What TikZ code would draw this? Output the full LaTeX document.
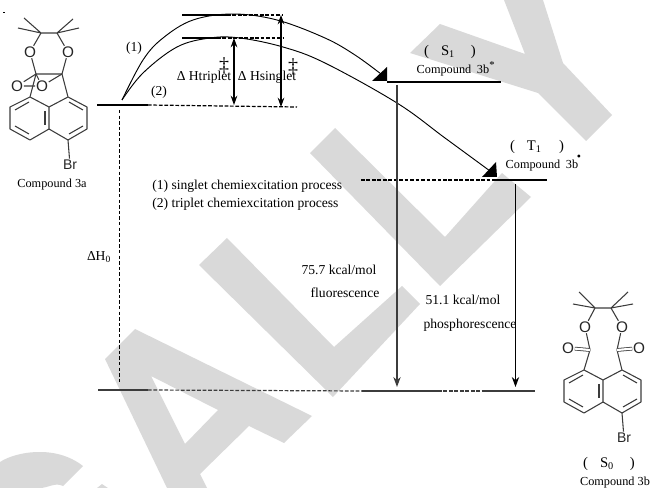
\documentclass[tikz,border=0pt]{standalone}
\usepackage{fontspec}
\usepackage{xcolor}
\setmainfont{Liberation Serif}
\setsansfont{Liberation Sans}
\usetikzlibrary{arrows.meta}
\definecolor{wmgray}{HTML}{D9D9D9}
\definecolor{lvlgray}{HTML}{3C3C3C}
\tikzset{
  wmark/.style={fill=wmgray,draw=none},
  bond/.style={line width=0.8pt,color=lvlgray},
  atom/.style={font=\sffamily\fontsize{11.5}{12}\selectfont,inner sep=0.4pt,color=black!85},
  brom/.style={font=\sffamily\fontsize{10.5}{12}\selectfont,inner sep=1pt,color=black!85},
  lbl/.style={font=\fontsize{10.2}{12}\selectfont,inner sep=0pt},
  state/.style={font=\fontsize{11}{13}\selectfont,inner sep=0pt},
  cmpd/.style={font=\fontsize{9.2}{11}\selectfont,inner sep=0pt},
  level/.style={line width=0.9pt},
  dashlevel/.style={line width=0.9pt,dash pattern=on 2.8pt off 1.3pt},
  curve/.style={line width=0.7pt},
  wedge/.style={fill=black,draw=none},
  gap/.style={line width=0.85pt,{Stealth[length=7pt,width=5pt]}-{Stealth[length=7pt,width=5pt]}},
  emit/.style={line width=1pt,-{Stealth[length=7.5pt,width=5.5pt]}}
}
\newcommand{\brnaphth}[3]{%
  \begin{scope}[shift={(#1,#2)}]
    \coordinate (#3a) at (30,97);
    \coordinate (#3b) at (10,107);
    \coordinate (#3c) at (10,129);
    \coordinate (#3d) at (30,140);
    \coordinate (#3e) at (49,129);
    \coordinate (#3f) at (49,107);
    \coordinate (#3g) at (68,97);
    \coordinate (#3h) at (87,107);
    \coordinate (#3i) at (87,129);
    \coordinate (#3j) at (68,140);
    \node[brom] (#3br) at (70,165) {Br};
    \draw[bond,line join=round] (#3a)--(#3b)--(#3c)--(#3d)--(#3e)--(#3f)--(#3a);
    \draw[bond,line join=round] (#3f)--(#3g)--(#3h)--(#3i)--(#3j)--(#3e);
    \draw[bond] (#3j)--(#3br);
    \draw[bond] (29,102)--(15,110);
    \draw[bond] (15,126)--(29,134);
    \draw[bond] (45,111)--(45,125);
    \draw[bond] (69,102)--(83,110);
    \draw[bond] (83,126)--(69,134);
  \end{scope}}
\begin{document}
\begin{tikzpicture}[x=0.75pt,y=-0.75pt]
  \useasboundingbox (0,0) rectangle (650,488);

  \fill[wmark] (504,0)--(543,0)--(563,63)--(612,115)--(586,141)--(538,93)--(410,53)--(440,24)--(525,54)--cycle;
  \fill[wmark] (335,128)--(445,237)--(502,173)--(531,197)--(440,286)--(310,153)--cycle;
  \fill[wmark] (227,238)--(334,347)--(402,286)--(420,304)--(333,397)--(199,265)--cycle;
  \fill[wmark,even odd rule] (135,329)--(312,416)--(284,443)--(249,426)--(200,474)--(207,488)--(167,488)--(105,359)--cycle
    (151,376)--(218,410)--(185,444)--cycle;
  \fill[wmark] (0,462) .. controls (15,452) and (55,444) .. (83,466)--(63,486) .. controls (55,482) and (48,488) .. (40,488)--(0,488)--cycle;
  \fill[wmark] (97,488)--(102,484)--(108,488)--cycle;

  \draw[line width=0.6pt] (3,12)--(5,12);

  \coordinate (ca) at (41,33);
  \coordinate (cb) at (57,33);
  \coordinate (cc) at (36,74);
  \coordinate (cd) at (62,74);
  \coordinate (mea) at (24,18);
  \coordinate (meb) at (18,28);
  \coordinate (mec) at (73,19);
  \coordinate (med) at (79,28);
  \node[atom] (oa) at (30,52) {O};
  \node[atom] (ob) at (68,52) {O};
  \node[atom] (oc) at (17,86) {O};
  \node[atom] (od) at (42,86) {O};
  \brnaphth{0}{0}{n}
  \draw[bond] (ca)--(cb) (ca)--(mea) (ca)--(meb) (cb)--(mec) (cb)--(med);
  \draw[bond] (ca)--(oa) (oa)--(cc) (cb)--(ob) (ob)--(cd) (cc)--(cd);
  \draw[bond] (cc)--(oc) (cc)--(od) (cd)--(od) (oc)--(od);
  \draw[bond] (cc)--(na) (cd)--(ng);
  \node[cmpd] (cmpa) at (52,185) {Compound 3a};

  \coordinate (gs) at (97,105);
  \coordinate (gsm) at (148,105);
  \coordinate (gsr) at (297,107);
  \coordinate (tsa) at (182,15);
  \coordinate (tsam) at (227,15);
  \coordinate (tsar) at (282,15);
  \coordinate (tsb) at (182,38);
  \coordinate (tsbm) at (217,38);
  \coordinate (tsbr) at (284,38);
  \coordinate (sa) at (387,82);
  \coordinate (sb) at (501,82);
  \coordinate (ta) at (361,180);
  \coordinate (tm) at (495,180);
  \coordinate (tb) at (547,180);
  \coordinate (ga) at (98,390);
  \coordinate (gb) at (148,390);
  \coordinate (gc) at (362,391);
  \coordinate (gd) at (438,391);
  \coordinate (ge) at (485,391);
  \coordinate (gf) at (535,391);

  \draw[level] (gs)--(gsm);
  \draw[dashlevel] (gsm)--(gsr);
  \draw[level] (tsa)--(tsam);
  \draw[dashlevel] (tsam)--(tsar);
  \draw[level] (tsb)--(tsbm);
  \draw[dashlevel] (tsbm)--(tsbr);
  \draw[level] (sa)--(sb);
  \draw[dashlevel] (ta)--(tm);
  \draw[level] (tm)--(tb);
  \draw[level,color=lvlgray] (ga)--(gb);
  \draw[dashlevel,color=lvlgray] (gb)--(gc);
  \draw[level,color=lvlgray] (gc)--(gd);
  \draw[dashlevel,color=lvlgray] (gd)--(ge);
  \draw[level,color=lvlgray] (ge)--(gf);

  \draw[curve] plot[smooth,tension=0.6] coordinates {(122,100) (143,60) (163,38) (193,20) (233,14) (277,20) (325,38) (355,55) (381,74)};
  \draw[curve] plot[smooth,tension=0.6] coordinates {(122,100) (143,73) (177,47) (210,38) (240,38) (283,47) (325,63) (397,103) (445,138) (490,171)};
  \fill[wedge] (372,81)--(387,81)--(387,67)--cycle;
  \fill[wedge] (482,177)--(497,177)--(496,162)--cycle;

  \coordinate (dha) at (234,38);
  \coordinate (dhb) at (234,105);
  \coordinate (dhc) at (281,15);
  \coordinate (dhd) at (281,107);
  \draw[gap] (dha)--(dhb);
  \draw[gap] (dhc)--(dhd);

  \coordinate (hz) at (119.5,110);
  \coordinate (hy) at (119.5,383);
  \draw[line width=0.9pt,dash pattern=on 2.6pt off 1.6pt] (hz)--(hy);

  \coordinate (fla) at (397,85);
  \coordinate (flb) at (397,387);
  \coordinate (pha) at (515.5,184);
  \coordinate (phb) at (515.5,387);
  \draw[emit,color=lvlgray] (fla)--(flb);
  \draw[emit] (pha)--(phb);

  \node[lbl] (one) at (134,48) {(1)};
  \node[lbl] (two) at (159,92) {(2)};
  \node[lbl] (hta) at (204,77) {Δ Htriplet};
  \node[lbl] (hsa) at (267,77) {Δ Hsinglet};
  \node[font=\fontsize{15}{16}\selectfont,inner sep=0pt] (dga) at (224,66) {‡};
  \node[font=\fontsize{15}{16}\selectfont,inner sep=0pt] (dgb) at (293,67) {‡};
  \node[lbl,anchor=west] (pra) at (152,186) {(1) singlet chemiexcitation process};
  \node[lbl,anchor=west] (prb) at (152,204) {(2) triplet chemiexcitation process};
  \node[lbl] (hzero) at (99,257) {ΔH\textsubscript{0}};
  \node[lbl] (ena) at (339,270) {75.7 kcal/mol};
  \node[lbl] (fl) at (345,293) {fluorescence};
  \node[lbl] (enb) at (463,300) {51.1 kcal/mol};
  \node[lbl] (ph) at (470,325) {phosphorescence};

  \node[state] (sone) at (450,52) {(\hspace{9pt}S\textsubscript{1}\hspace{12pt})};
  \node[cmpd] (cmpb) at (453,71) {Compound\hspace{2pt} 3b};
  \node[font=\fontsize{8}{9}\selectfont,inner sep=0pt] (sstar) at (492,65) {*};
  \node[state] (tone) at (537,147) {(\hspace{9pt}T\textsubscript{1}\hspace{13pt})};
  \node[cmpd] (cmpc) at (542,166) {Compound\hspace{2pt} 3b};
  \node[font=\fontsize{9}{10}\selectfont,inner sep=0pt] (tdot) at (579,158) {•};
  \node[state] (szero) at (609,464) {(\hspace{9pt}S\textsubscript{0}\hspace{12pt})};
  \node[cmpd] (cmpd) at (615,483) {Compound 3b};

  \coordinate (cp) at (595,308);
  \coordinate (cq) at (611,308);
  \coordinate (mep) at (579,292);
  \coordinate (meq) at (573,304);
  \coordinate (mer) at (628,292);
  \coordinate (mes) at (633,304);
  \coordinate (cr) at (590,350);
  \coordinate (cs) at (617,350);
  \node[atom] (op) at (585,327) {O};
  \node[atom] (oq) at (622,327) {O};
  \node[atom] (or) at (568,348) {O};
  \node[atom] (os) at (639,348) {O};
  \brnaphth{554}{273}{m}
  \draw[bond] (cp)--(cq) (cp)--(mep) (cp)--(meq) (cq)--(mer) (cq)--(mes);
  \draw[bond] (cp)--(op) (op)--(cr) (cq)--(oq) (oq)--(cs);
  \draw[bond] (cr)--(ma) (cs)--(mg);
  \draw[bond,double,double distance=1.6pt,line width=0.6pt] (or)--(cr);
  \draw[bond,double,double distance=1.6pt,line width=0.6pt] (os)--(cs);
\end{tikzpicture}
\end{document}
